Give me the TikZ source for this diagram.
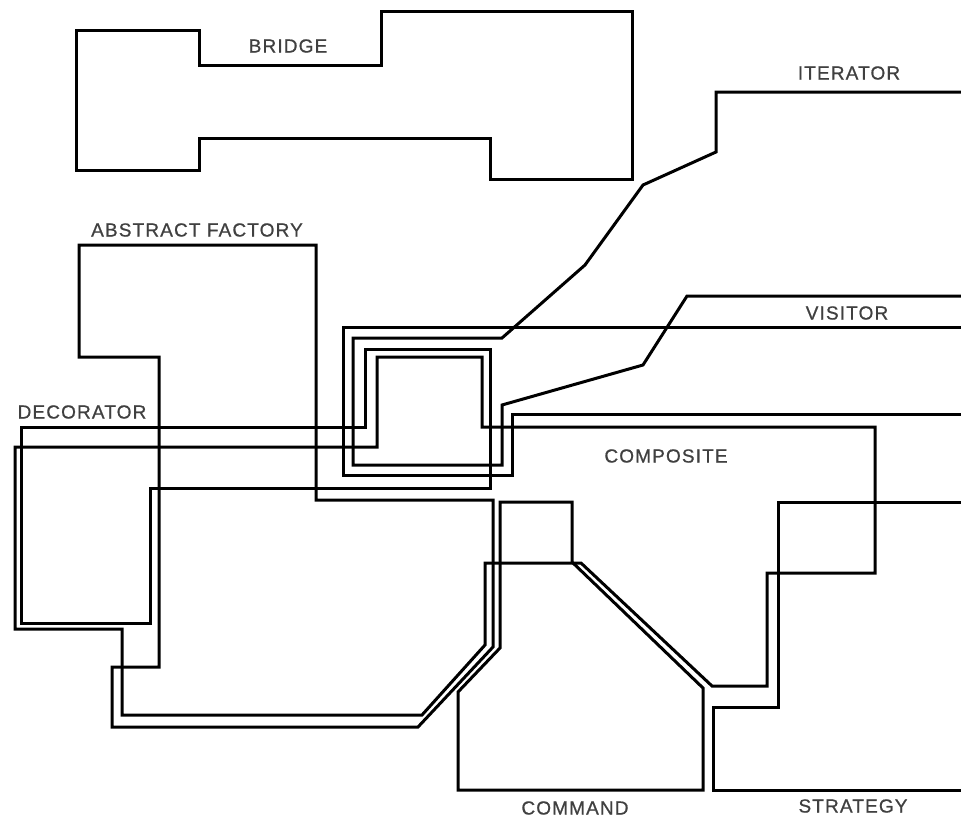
\documentclass[tikz,border=0pt]{standalone}
\usepackage{fontspec}
\newfontfamily\lblfont[LetterSpace=6,FakeBold=0.8]{Liberation Sans}

\begin{document}
\begin{tikzpicture}[x=1pt, y=-1pt,
                region/.style={draw=black, line width=3pt, line join=miter},
                lbl/.style={font=\lblfont\fontsize{19}{19}\selectfont,
                            text=black!75, inner sep=0pt}
            ]
                \useasboundingbox (0,0) rectangle (961,822);
                % regions
                \draw[region] (76,30) -- (199,30) -- (199,65) -- (381,65) -- (381,11)
                    -- (632,11) -- (632,179) -- (490,179) -- (490,138) -- (199,138)
                    -- (199,170) -- (76,170) -- cycle;
                \draw[region] (79,245) -- (316,245) -- (316,500) -- (493,500) -- (493,647)
                    -- (418,727) -- (112,727) -- (112,667) -- (159,667) -- (159,357)
                    -- (79,357) -- cycle;
                \draw[region] (21,427) -- (365,427) -- (365,349) -- (490,349) -- (490,488)
                    -- (150,488) -- (150,623) -- (21,623) -- cycle;
                \draw[region] (961,92) -- (716,92) -- (716,152) -- (643,185) -- (585,265)
                    -- (502,338) -- (353,338) -- (353,465) -- (502,465) -- (502,405)
                    -- (643,365) -- (687,296) -- (961,296);
                \draw[region] (961,327) -- (343,327) -- (343,475) -- (512,475) -- (512,414)
                    -- (961,414);
                \draw[region] (15,447) -- (377,447) -- (377,357) -- (482,357) -- (482,427)
                    -- (875,427) -- (875,573) -- (767,573) -- (767,686) -- (712,686)
                    -- (581,563) -- (485,563) -- (485,645) -- (422,715) -- (122,715)
                    -- (122,629) -- (15,629) -- cycle;
                \draw[region] (458,692) -- (500,648) -- (500,502) -- (572,502) -- (572,562)
                    -- (703,688) -- (703,790) -- (458,790) -- cycle;
                \draw[region] (961,502) -- (778,502) -- (778,707) -- (713,707) -- (713,790)
                    -- (961,790);
                % labels
                \node[lbl] (bridge) at (288,46) {BRIDGE};
                \node[lbl] (abstract) at (197,230) {ABSTRACT FACTORY};
                \node[lbl] (decorator) at (82,412) {DECORATOR};
                \node[lbl] (iterator) at (849,73) {ITERATOR};
                \node[lbl] (visitor) at (847,313) {VISITOR};
                \node[lbl] (composite) at (666,456) {COMPOSITE};
                \node[lbl] (command) at (575,808) {COMMAND};
                \node[lbl] (strategy) at (853,806) {STRATEGY};
            \end{tikzpicture}
\end{document}
